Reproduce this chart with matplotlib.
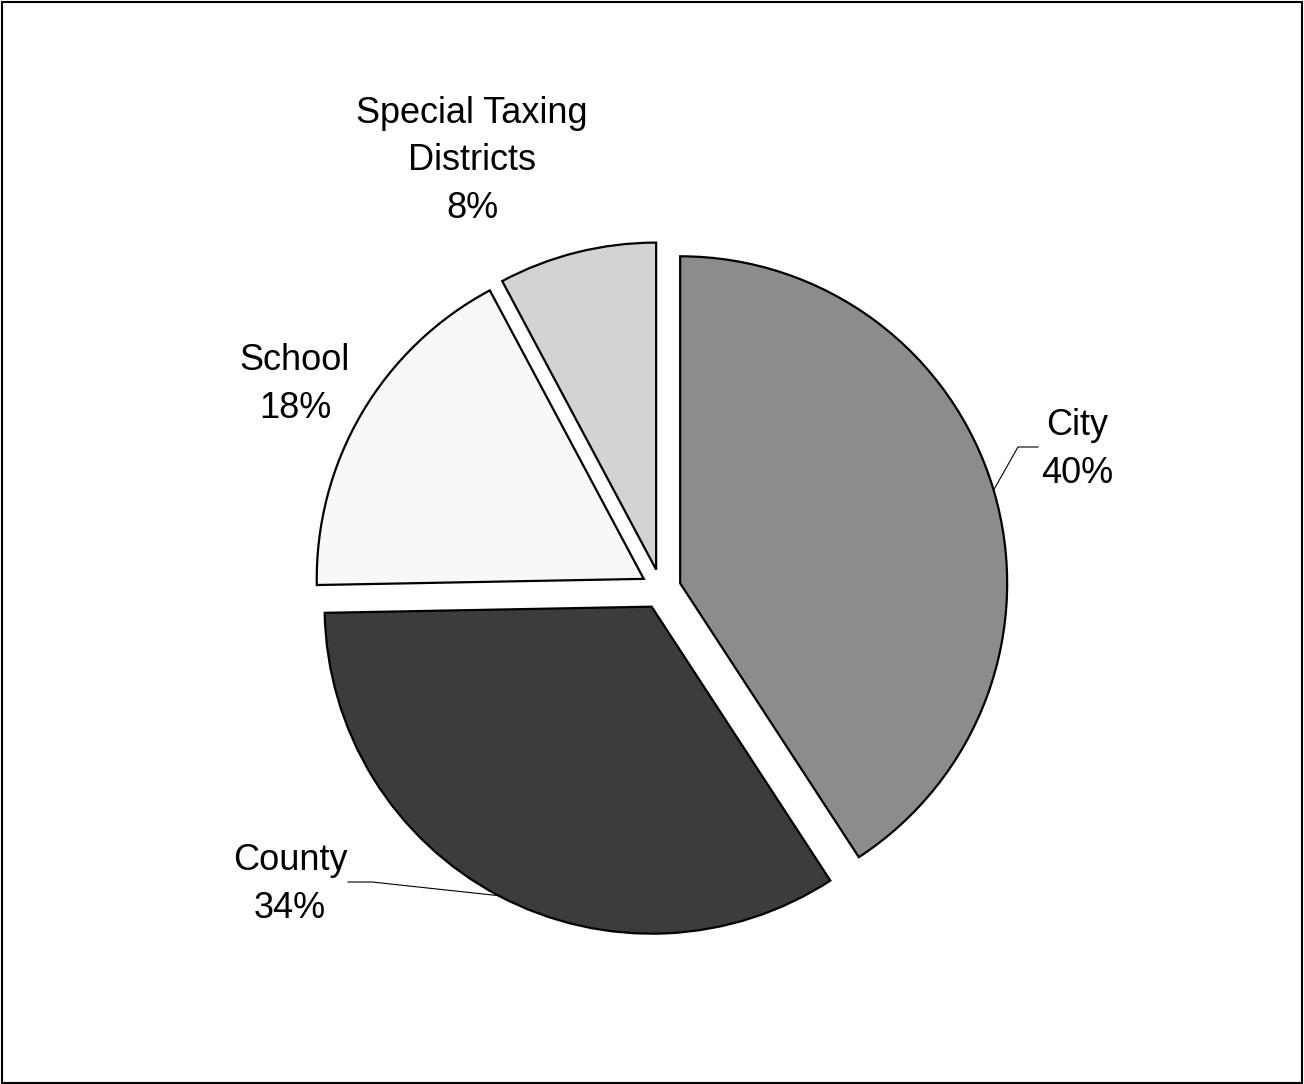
import numpy as np
import matplotlib.pyplot as plt
from matplotlib.patches import Rectangle

# Arial-like font
plt.rcParams['font.family'] = ['Liberation Sans', 'DejaVu Sans']

# data
categories = ['City', 'County', 'School', 'Special Taxing\nDistricts']
shares = [40.8, 33.9, 17.5, 7.8]
pct_labels = ['40%', '34%', '18%', '8%']
colors = ['#8c8c8c', '#3c3c3c', '#f8f8f8', '#d3d3d3']

# work in pixel units so layout is easy to match
W, H = 1304, 1084
fig = plt.figure(figsize=(W / 100., H / 100.), dpi=100)
ax = fig.add_axes([0, 0, 1, 1])

cx, cy, r = 661, H - 589, 327
wedges, _ = ax.pie(shares, colors=colors, startangle=90, counterclock=False,
                   center=(cx, cy), radius=r, explode=[20] * len(shares),
                   wedgeprops=dict(edgecolor='black', linewidth=1.6,
                                   joinstyle='miter'),
                   frame=True)
ax.set_xlim(0, W)
ax.set_ylim(0, H)
ax.axis('off')

# label anchors (centre x, last-line baseline y) in pixels
label_xy = [(1077, H - 483), (290, H - 918), (295, H - 418), (472, H - 218)]
for cat, pct, (lx, ly) in zip(categories, pct_labels, label_xy):
    ax.text(lx, ly, cat + '\n' + pct, ha='center', va='baseline',
            fontsize=26, linespacing=1.47)

# leader lines for City and County: rim point -> elbow -> end
def rim_point(w):
    t = np.deg2rad(0.5 * (w.theta1 + w.theta2))
    return w.center[0] + w.r * np.cos(t), w.center[1] + w.r * np.sin(t)

leaders = {0: [(1018, H - 447), (1038, H - 447)],
           1: [(372, H - 882), (348, H - 882)]}
for i, pts in leaders.items():
    x0, y0 = rim_point(wedges[i])
    xs = [x0] + [p[0] for p in pts]
    ys = [y0] + [p[1] for p in pts]
    ax.plot(xs, ys, color='black', linewidth=0.8)

# outer border
fig.patches.append(Rectangle((2. / W, 1.5 / H), 1 - 4. / W, 1 - 3. / H,
                             transform=fig.transFigure, fill=False,
                             edgecolor='black', linewidth=1.5))

fig.savefig('out.png', dpi=100)
